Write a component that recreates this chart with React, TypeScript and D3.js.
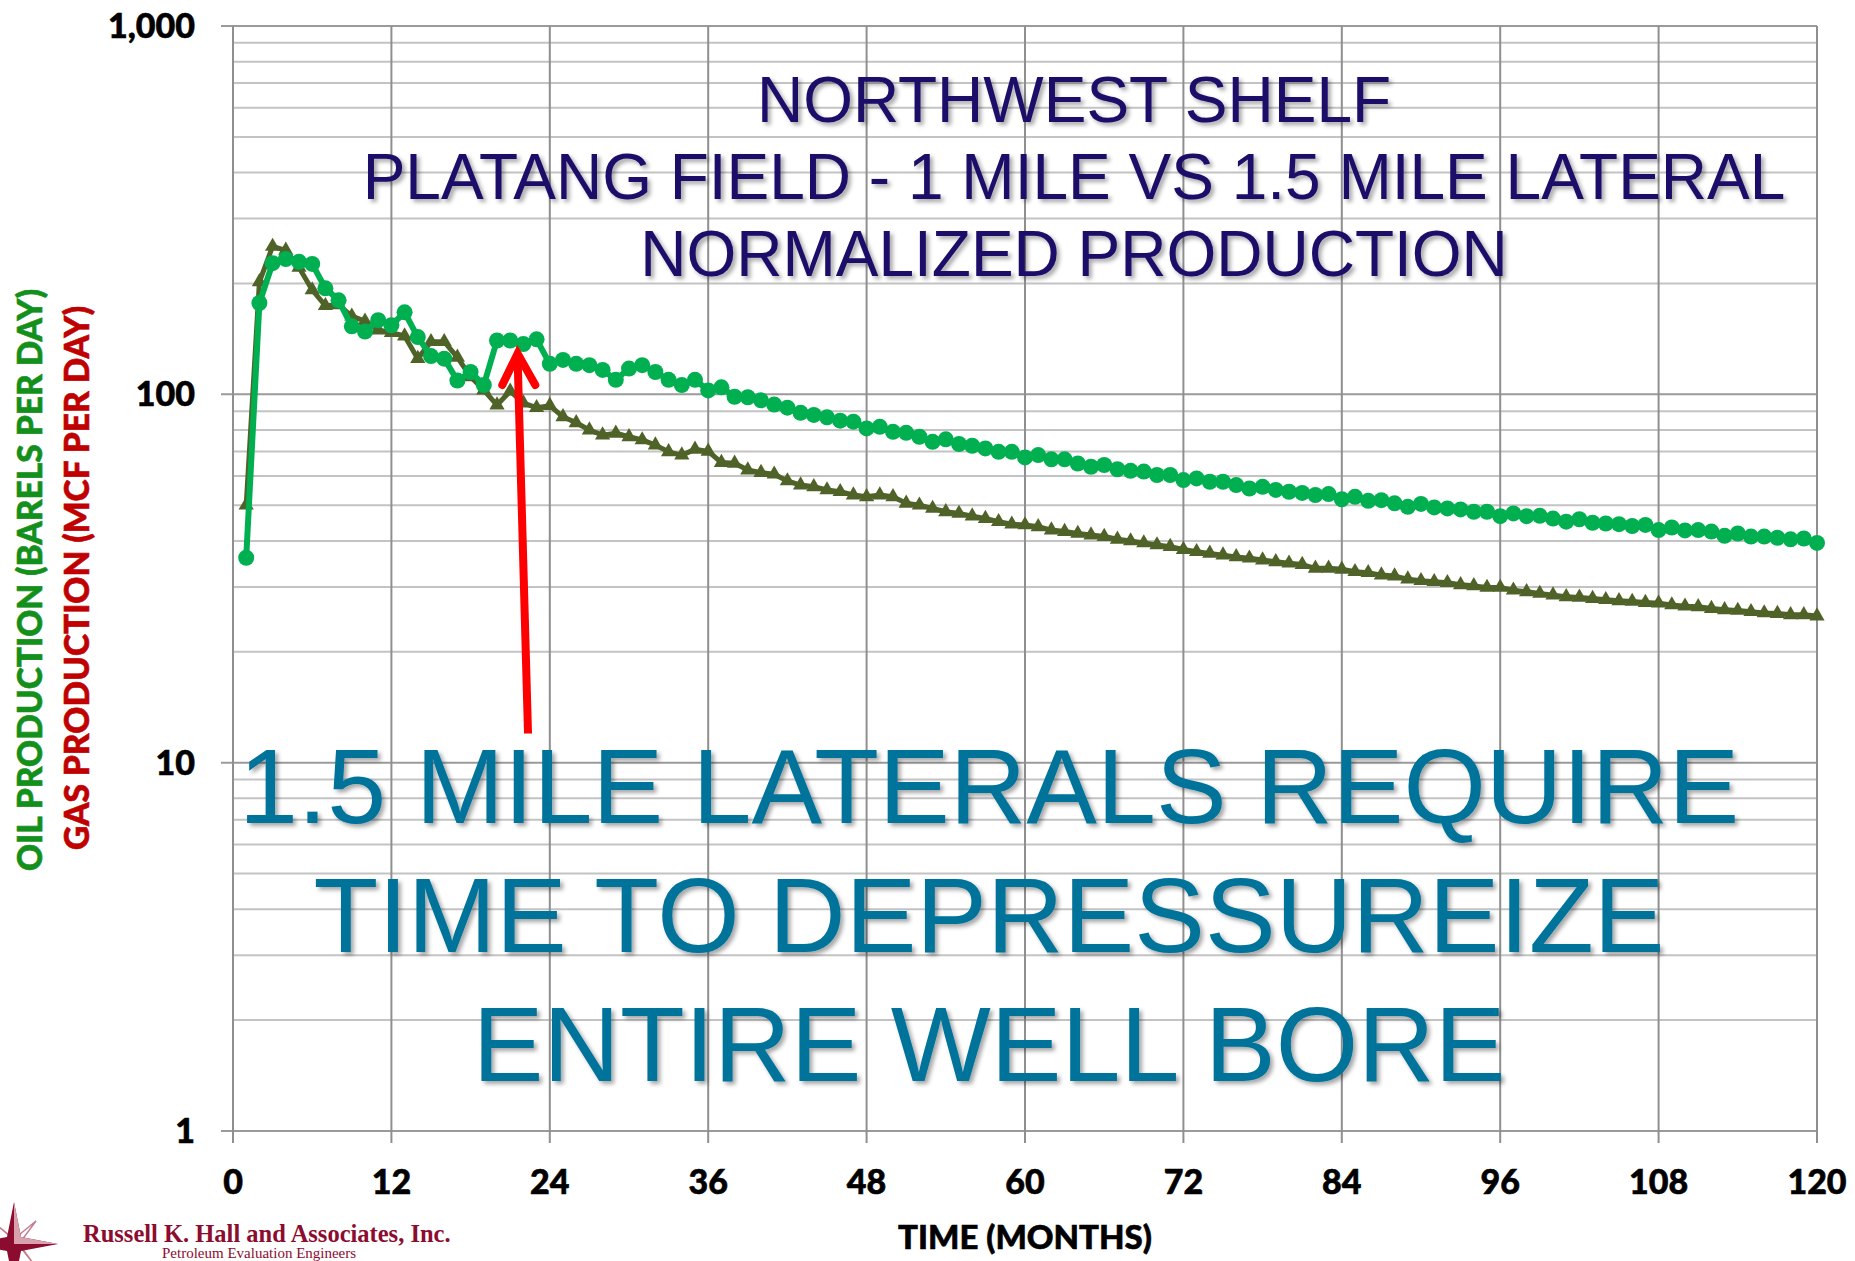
import React, { useEffect, useRef } from "react";
import * as d3 from "d3";

const W = 1855;
const H = 1261;

// monthly normalized production, month 1..120
const greenValues = [
  36, 177, 227, 233, 229, 226, 194, 180, 153, 148,
  159, 154, 167, 143, 127, 125, 109, 115, 106, 140,
  140, 137, 141, 121, 124, 121, 120, 116.5, 109.5, 117.5,
  120, 115, 109.5, 106, 109.5, 102.5, 104.5, 98.5, 98.2, 96.3,
  93.8, 92, 89.1, 87.9, 86.6, 84.8, 84.3, 80.8, 81.6, 79.1,
  78.6, 76.7, 74.3, 75.5, 73.3, 72.5, 71.3, 69.8, 69.8, 67.4,
  68.4, 66.6, 66.6, 64.9, 63.6, 64.3, 62.6, 62.0, 61.7, 60.4,
  60.4, 58.5, 59.1, 57.9, 57.9, 56.7, 55.5, 56.1, 55.0, 54.4,
  54.0, 53.3, 53.6, 51.9, 52.7, 51.4, 51.6, 50.6, 49.5, 50.4,
  49.3, 49.0, 48.7, 48.0, 48.0, 46.7, 47.5, 46.7, 46.8, 46.0,
  45.1, 45.8, 44.8, 44.6, 44.4, 43.9, 44.2, 42.8, 43.5, 42.7,
  42.8, 42.4, 41.3, 41.9, 41.1, 41.1, 40.8, 40.4, 40.6, 39.5,
];

const oliveValues = [
  50, 202, 252, 246, 221, 192, 174, 175, 163, 158,
  149.5, 147, 144, 125, 139, 139, 126, 111.6, 102.7, 93.5,
  102, 94.7, 92, 93.2, 86.9, 83.7, 80.0, 77.5, 78.4, 76.7,
  75.2, 72.8, 69.8, 68.4, 70.9, 70, 65.3, 65, 62.3, 61.3,
  60.7, 58.2, 56.7, 56.1, 55.0, 54.4, 53.3, 52.7, 53.3, 52.7,
  50.6, 50.0, 49.0, 48.0, 47.5, 46.7, 46.0, 45.1, 44.4, 44.2,
  43.7, 42.8, 42.4, 41.9, 41.5, 41.1, 40.4, 40.0, 39.5, 39.0,
  38.6, 37.9, 37.4, 37.0, 36.6, 36.2, 35.9, 35.5, 35.1, 34.8,
  34.5, 33.7, 33.7, 33.5, 33.0, 32.8, 32.3, 32.1, 31.5, 31.2,
  31.0, 30.8, 30.4, 30.2, 29.9, 29.9, 29.4, 29.1, 28.8, 28.5,
  28.2, 28.1, 27.9, 27.7, 27.5, 27.4, 27.2, 27.1, 26.8, 26.6,
  26.5, 26.2, 26.0, 25.9, 25.7, 25.5, 25.4, 25.2, 25.2, 25.0,
];

const xTicks = [0, 12, 24, 36, 48, 60, 72, 84, 96, 108, 120];
const yTicks = [1, 10, 100, 1000];

const titleLines = [
  "NORTHWEST SHELF",
  "PLATANG FIELD - 1 MILE VS 1.5 MILE LATERAL",
  "NORMALIZED PRODUCTION",
];
const noteLines = [
  "1.5 MILE LATERALS REQUIRE",
  "TIME TO DEPRESSUREIZE",
  "ENTIRE WELL BORE",
];

// arrow annotation in data units (month, value)
const arrowTail = [22.35, 12];
const arrowTip = [21.56, 129];
const arrowWingL = [20.4, 106];
const arrowWingR = [22.9, 106];

function App() {
  const svgRef = useRef(null);

  useEffect(() => {
    document.body.style.margin = "0";
    const svg = d3.select(svgRef.current);
    svg.selectAll("*").remove();

    const left = 233, right = 1817, top = 26, bottom = 1131;
    const x = d3.scaleLinear().domain([0, 120]).range([left, right]);
    const y = d3.scaleLog().domain([1, 1000]).range([bottom, top]);

    svg.append("rect").attr("width", W).attr("height", H).attr("fill", "#ffffff");

    const defs = svg.append("defs");
    const f = defs
      .append("filter")
      .attr("id", "txtShadow")
      .attr("x", "-5%")
      .attr("y", "-10%")
      .attr("width", "110%")
      .attr("height", "130%");
    f.append("feDropShadow")
      .attr("dx", 3)
      .attr("dy", 3)
      .attr("stdDeviation", 2)
      .attr("flood-color", "#000")
      .attr("flood-opacity", 0.35);

    // grid
    const grid = svg.append("g");
    const minor = [];
    [1, 10, 100].forEach((d) => {
      for (let k = 2; k <= 9; k++) minor.push(k * d);
    });
    grid
      .selectAll(".minor")
      .data(minor)
      .enter()
      .append("line")
      .attr("x1", left)
      .attr("x2", right)
      .attr("y1", (d) => y(d))
      .attr("y2", (d) => y(d))
      .attr("stroke", "#c3c3c3")
      .attr("stroke-width", 2);
    grid
      .selectAll(".major")
      .data(yTicks)
      .enter()
      .append("line")
      .attr("x1", left - 12)
      .attr("x2", right)
      .attr("y1", (d) => y(d))
      .attr("y2", (d) => y(d))
      .attr("stroke", "#9a9a9a")
      .attr("stroke-width", 2);
    grid
      .selectAll(".vert")
      .data(xTicks)
      .enter()
      .append("line")
      .attr("x1", (d) => x(d))
      .attr("x2", (d) => x(d))
      .attr("y1", top)
      .attr("y2", bottom + 12)
      .attr("stroke", "#8f8f8f")
      .attr("stroke-width", 2);

    // tick labels
    const fmt = d3.format(",");
    const axisFont = "Lato, 'Open Sans', sans-serif";
    svg
      .append("g")
      .selectAll("text")
      .data(yTicks)
      .enter()
      .append("text")
      .attr("x", 195)
      .attr("y", (d) => y(d) + 12)
      .attr("text-anchor", "end")
      .style("font-family", axisFont)
      .style("font-weight", 900)
      .style("font-size", "34px")
      .attr("fill", "#000")
      .attr("stroke", "#000")
      .attr("stroke-width", 0.6)
      .text((d) => fmt(d));
    svg
      .append("g")
      .selectAll("text")
      .data(xTicks)
      .enter()
      .append("text")
      .attr("x", (d) => x(d))
      .attr("y", 1194)
      .attr("text-anchor", "middle")
      .style("font-family", axisFont)
      .style("font-weight", 900)
      .style("font-size", "34px")
      .attr("fill", "#000")
      .attr("stroke", "#000")
      .attr("stroke-width", 0.6)
      .text((d) => d);

    svg
      .append("text")
      .attr("x", (left + right) / 2)
      .attr("y", 1249)
      .attr("text-anchor", "middle")
      .style("font-family", axisFont)
      .style("font-weight", 900)
      .style("font-size", "33px")
      .attr("stroke", "#000")
      .attr("stroke-width", 0.6)
      .text("TIME (MONTHS)");

    // y axis titles
    svg
      .append("text")
      .attr("transform", "translate(42,580) rotate(-90)")
      .attr("text-anchor", "middle")
      .style("font-family", axisFont)
      .style("font-weight", 900)
      .style("font-size", "33.5px")
      .attr("fill", "#13901c")
      .attr("stroke", "#13901c")
      .attr("stroke-width", 0.6)
      .text("OIL PRODUCTION (BARELS PER DAY)");
    svg
      .append("text")
      .attr("transform", "translate(89,578) rotate(-90)")
      .attr("text-anchor", "middle")
      .style("font-family", axisFont)
      .style("font-weight", 900)
      .style("font-size", "33.5px")
      .attr("fill", "#c00000")
      .attr("stroke", "#c00000")
      .attr("stroke-width", 0.6)
      .text("GAS PRODUCTION (MCF PER DAY)");

    // series
    const olive = oliveValues.map((v, i) => [i + 1, v]);
    const green = greenValues.map((v, i) => [i + 1, v]);
    const line = d3
      .line()
      .x((d) => x(d[0]))
      .y((d) => y(d[1]));

    svg
      .append("path")
      .datum(olive)
      .attr("d", line)
      .attr("fill", "none")
      .attr("stroke", "#4f6228")
      .attr("stroke-width", 5)
      .attr("stroke-linejoin", "round");
    const tri = d3.symbol(d3.symbolTriangle, 100);
    svg
      .append("g")
      .selectAll("path")
      .data(olive)
      .enter()
      .append("path")
      .attr("d", tri)
      .attr("transform", (d) => `translate(${x(d[0])},${y(d[1])})`)
      .attr("fill", "#4f6228");

    svg
      .append("path")
      .datum(green)
      .attr("d", line)
      .attr("fill", "none")
      .attr("stroke", "#00b050")
      .attr("stroke-width", 6)
      .attr("stroke-linejoin", "round");
    svg
      .append("g")
      .selectAll("circle")
      .data(green)
      .enter()
      .append("circle")
      .attr("cx", (d) => x(d[0]))
      .attr("cy", (d) => y(d[1]))
      .attr("r", 8)
      .attr("fill", "#00b050");

    // title
    svg
      .append("g")
      .attr("filter", "url(#txtShadow)")
      .selectAll("text")
      .data(titleLines)
      .enter()
      .append("text")
      .attr("x", 1074)
      .attr("y", (d, i) => 122 + i * 77)
      .attr("text-anchor", "middle")
      .style("font-family", "'Liberation Sans', Arial, sans-serif")
      .style("font-size", "64px")
      .attr("fill", "#1b0968")
      .text((d) => d);

    // note
    svg
      .append("g")
      .attr("filter", "url(#txtShadow)")
      .selectAll("text")
      .data(noteLines)
      .enter()
      .append("text")
      .attr("x", 989)
      .attr("y", (d, i) => 823 + i * 129)
      .attr("text-anchor", "middle")
      .style("font-family", "'Liberation Sans', Arial, sans-serif")
      .style("font-size", "106px")
      .attr("fill", "#06739b")
      .text((d) => d);

    // arrow
    const ag = svg.append("g").attr("stroke", "#ff0000").attr("fill", "none").attr("stroke-width", 8);
    ag.append("line")
      .attr("x1", x(arrowTail[0]))
      .attr("y1", y(arrowTail[1]))
      .attr("x2", x(arrowTip[0]))
      .attr("y2", y(arrowTip[1]) + 4);
    ag.append("polyline")
      .attr("points", [arrowWingL, arrowTip, arrowWingR].map((p) => `${x(p[0])},${y(p[1])}`).join(" "))
      .attr("stroke-linejoin", "miter")
      .attr("stroke-linecap", "round");

    // company logo
    const logo = svg.append("g");
    const cx = 14, cy = 1244;
    const dark = "#8c0c30";
    // diagonal thin points
    [[36, 1221], [36, 1267], [-8, 1221]].forEach(([px, py]) => {
      logo.append("path")
        .attr("d", `M${cx},${cy - 5} L${px},${py} L${cx + 5},${cy} Z`)
        .attr("fill", "#fff")
        .attr("stroke", "#c47a8c")
        .attr("stroke-width", 1.4);
    });
    logo.append("path")
      .attr("d", `M${cx},${cy - 42} L${cx + 7},${cy - 7} L${cx + 44},${cy} L${cx + 7},${cy + 7} L${cx},${cy + 42} L${cx - 7},${cy + 7} L${cx - 44},${cy} L${cx - 7},${cy - 7} Z`)
      .attr("fill", dark);
    logo.append("path")
      .attr("d", `M${cx},${cy - 42} L${cx},${cy} L${cx + 44},${cy} L${cx + 7},${cy - 7} Z`)
      .attr("fill", "#d9a0ae");
    logo.append("text")
      .attr("x", 83)
      .attr("y", 1242)
      .style("font-family", "'Liberation Serif', 'Times New Roman', serif")
      .style("font-weight", 700)
      .style("font-size", "24.5px")
      .attr("fill", dark)
      .text("Russell K. Hall and Associates, Inc.");
    logo.append("text")
      .attr("x", 162)
      .attr("y", 1258)
      .style("font-family", "'Liberation Serif', 'Times New Roman', serif")
      .style("font-size", "15px")
      .attr("fill", dark)
      .text("Petroleum Evaluation Engineers");
  }, []);

  return (
    <svg
      ref={svgRef}
      width={W}
      height={H}
      style={{ position: "absolute", left: 0, top: 0, display: "block" }}
    />
  );
}

export default App;
